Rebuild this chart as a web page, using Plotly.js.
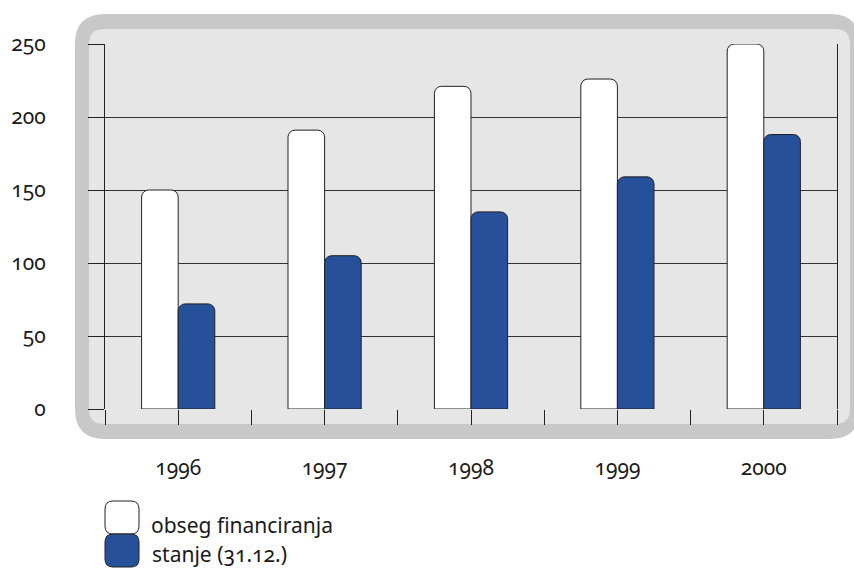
<!DOCTYPE html>
<html>
<head>
<meta charset="utf-8">
<script src="https://cdn.plot.ly/plotly-3.0.1.min.js"></script>
<style>
  html, body { margin: 0; padding: 0; background: #ffffff; }
  #chart { width: 854px; height: 569px; }
  .main-svg text { font-feature-settings: "onum" 1 !important; font-variant-numeric: oldstyle-nums !important; }
</style>
</head>
<body>
<div id="chart"></div>
<script>
// ---- data ----
const years = ['1996', '1997', '1998', '1999', '2000'];
const seriesNames = ['obseg financiranja', 'stanje (31.12.)'];
const obsegFinanciranja = [150, 191, 221, 226, 250];
const stanje = [72, 105, 135, 159, 188];
const yTicks = [0, 50, 100, 150, 200, 250];

// ---- layout helpers (pixel -> paper) ----
const L = 105, R = 837, T = 44, B = 409;
const W = 854, H = 569;
const px = v => (v - L) / (R - L);
const py = v => (B - v) / (B - T);
function roundRect(x0, y0, x1, y1, r) {
  const p = (x, y) => px(x).toFixed(5) + ',' + py(y).toFixed(5);
  return 'M' + p(x0 + r, y0) + ' L' + p(x1 - r, y0) + ' Q' + p(x1, y0) + ' ' + p(x1, y0 + r) +
    ' L' + p(x1, y1 - r) + ' Q' + p(x1, y1) + ' ' + p(x1 - r, y1) +
    ' L' + p(x0 + r, y1) + ' Q' + p(x0, y1) + ' ' + p(x0, y1 - r) +
    ' L' + p(x0, y0 + r) + ' Q' + p(x0, y0) + ' ' + p(x0 + r, y0) + ' Z';
}

const xIdx = years.map((_, i) => i);
const xTickVals = [], xTickText = [];
for (let i = 0; i <= years.length * 2; i++) {
  const v = -0.5 + i * 0.5;
  xTickVals.push(v);
  xTickText.push(i % 2 === 1 ? years[(i - 1) / 2] : '');
}

const fontFam = '"Noto Sans", "Open Sans", sans-serif';
const white = '#ffffff', blue = '#265099', edge = '#222222';

const traces = [
  { type: 'bar', name: seriesNames[0], x: xIdx, y: obsegFinanciranja,
    marker: { color: white, line: { color: edge, width: 1 }, cornerradius: 7 }, hoverinfo: 'y' },
  { type: 'bar', name: seriesNames[1], x: xIdx, y: stanje,
    marker: { color: blue, line: { color: edge, width: 1 }, cornerradius: 7 }, hoverinfo: 'y' }
];

const layout = {
  width: W, height: H,
  margin: { l: L, r: W - R, t: T, b: H - B, pad: 0 },
  paper_bgcolor: '#ffffff',
  plot_bgcolor: 'rgba(0,0,0,0)',
  showlegend: false,
  barmode: 'group',
  bargap: 0.5,
  bargroupgap: 0,
  font: { family: fontFam, color: '#1a1a1a', size: 21 },
  xaxis: {
    type: 'linear', range: [-0.5, 4.5], fixedrange: true,
    tickmode: 'array', tickvals: xTickVals, ticktext: xTickText,
    ticks: 'outside', ticklen: 15, tickwidth: 1, tickcolor: '#222',
    ticklabelstandoff: 25,
    showgrid: false, zeroline: false, showline: false,
    tickfont: { family: fontFam, size: 21, color: '#1a1a1a' }
  },
  yaxis: {
    range: [0, 250], fixedrange: true,
    tickmode: 'array', tickvals: yTicks,
    ticks: 'outside', ticklen: 16, tickwidth: 1, tickcolor: '#222',
    ticklabelstandoff: 38,
    showgrid: true, gridcolor: '#333', gridwidth: 1,
    zeroline: false, showline: true, linecolor: '#222', linewidth: 1, mirror: true,
    tickfont: { family: fontFam, size: 21, color: '#1a1a1a' }
  },
  shapes: [
    { type: 'path', xref: 'paper', yref: 'paper', layer: 'below',
      path: roundRect(75, 14, 860, 439, 30), fillcolor: '#c8c8c8', line: { width: 0 } },
    { type: 'path', xref: 'paper', yref: 'paper', layer: 'below',
      path: roundRect(89, 29, 850, 424, 15), fillcolor: '#e6e6e6', line: { width: 0 } },
    { type: 'path', xref: 'paper', yref: 'paper', layer: 'above',
      path: roundRect(105, 501, 139, 534, 8), fillcolor: white, line: { color: edge, width: 1 } },
    { type: 'path', xref: 'paper', yref: 'paper', layer: 'above',
      path: roundRect(105, 534, 139, 567, 8), fillcolor: blue, line: { color: edge, width: 1 } }
  ],
  annotations: [
    { xref: 'paper', yref: 'paper', x: px(149), y: py(525), xanchor: 'left', yanchor: 'middle',
      text: seriesNames[0], showarrow: false, font: { family: fontFam, size: 21, color: '#1a1a1a' } },
    { xref: 'paper', yref: 'paper', x: px(149), y: py(554), xanchor: 'left', yanchor: 'middle',
      text: seriesNames[1], showarrow: false, font: { family: fontFam, size: 21, color: '#1a1a1a' } }
  ]
};

Plotly.newPlot('chart', traces, layout, { displayModeBar: false, staticPlot: true });
</script>
</body>
</html>
